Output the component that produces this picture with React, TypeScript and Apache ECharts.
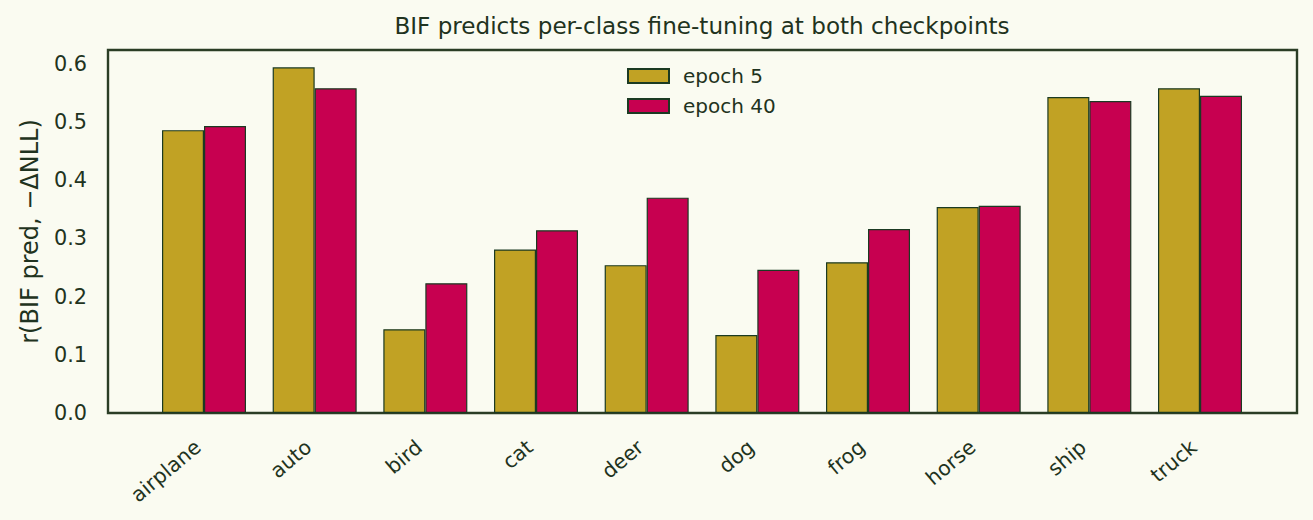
import React, { useEffect, useRef } from "react";
import * as echarts from "echarts";

const categories = ["airplane", "auto", "bird", "cat", "deer", "dog", "frog", "horse", "ship", "truck"];
const epoch5 = [0.486, 0.594, 0.144, 0.281, 0.254, 0.134, 0.259, 0.354, 0.543, 0.558];
const epoch40 = [0.493, 0.558, 0.223, 0.314, 0.370, 0.246, 0.316, 0.356, 0.536, 0.545];
const seriesNames = ["epoch 5", "epoch 40"];
const titleText = "BIF predicts per-class fine-tuning at both checkpoints";
const yLabel = "r(BIF pred, \u2212\u0394NLL)";
const yMin = 0;
const yMax = 0.6237;
const yInterval = 0.1;

const BG = "#fafbf1";
const TEXT = "#1f3320";
const FRAME = "#2a3d25";
const EDGE = "#1b3a22";
const GOLD = "#c1a224";
const MAGENTA = "#c70050";
const FONT = "DejaVu Sans";

export default function App() {
  const ref = useRef<HTMLDivElement>(null);
  useEffect(() => {
    document.body.style.margin = "0";
    document.body.style.background = BG;
    const chart = echarts.init(ref.current!, null, { renderer: "svg" });
    const option: any = {
      animation: false,
      backgroundColor: BG,
      textStyle: { fontFamily: FONT, color: TEXT },
      title: {
        text: titleText,
        left: 697,
        top: 9,
        textAlign: "center",
        textStyle: { fontFamily: FONT, fontSize: 23.1, fontWeight: "normal", color: TEXT },
      },
      legend: {
        orient: "vertical",
        left: 627,
        top: 66,
        padding: 0,
        itemWidth: 41,
        itemHeight: 14,
        itemGap: 10,
        icon: "rect",
        data: seriesNames,
        textStyle: { fontFamily: FONT, fontSize: 20, color: TEXT, padding: [0, 0, 0, 9] },
      },
      grid: [
        {
          left: 108,
          top: 50,
          width: 1189,
          height: 363,
          show: true,
          backgroundColor: BG,
          borderColor: FRAME,
          borderWidth: 2.4,
        },
        {
          left: 148.67,
          top: 50,
          width: 1106.67,
          height: 363,
        },
      ],
      xAxis: [
        { gridIndex: 0, type: "value", show: false, min: 0, max: 1 },
        {
          gridIndex: 1,
          type: "category",
          data: categories,
          boundaryGap: true,
          axisLine: { show: false },
          axisTick: { show: false },
          splitLine: { show: false },
          axisLabel: {
            interval: 0,
            rotate: 40,
            margin: 26,
            padding: [0, 8, 0, 0],
            fontFamily: FONT,
            fontSize: 20.5,
            color: TEXT,
          },
        },
      ],
      yAxis: [
        {
          gridIndex: 0,
          type: "value",
          min: yMin,
          max: yMax,
          interval: yInterval,
          name: yLabel,
          nameLocation: "middle",
          nameGap: 66,
          nameTextStyle: { fontFamily: FONT, fontSize: 24, color: TEXT },
          axisLine: { show: false },
          axisTick: { show: false },
          splitLine: { show: false },
          axisLabel: {
            showMaxLabel: false,
            margin: 21,
            fontFamily: FONT,
            fontSize: 20.8,
            color: TEXT,
            formatter: (v: number) => v.toFixed(1),
          },
        },
        { gridIndex: 1, type: "value", min: yMin, max: yMax, show: false },
      ],
      series: [
        {
          name: seriesNames[0],
          type: "bar",
          xAxisIndex: 1,
          yAxisIndex: 1,
          data: epoch5,
          barWidth: 42,
          barGap: "0%",
          itemStyle: { color: GOLD, borderColor: EDGE, borderWidth: 1.2 },
        },
        {
          name: seriesNames[1],
          type: "bar",
          xAxisIndex: 1,
          yAxisIndex: 1,
          data: epoch40,
          barWidth: 42,
          barGap: "0%",
          itemStyle: { color: MAGENTA, borderColor: EDGE, borderWidth: 1.2 },
        },
      ],
    };
    chart.setOption(option);
    return () => chart.dispose();
  }, []);
  return (
    <div
      ref={ref}
      style={{ position: "fixed", left: 0, top: 0, width: 1313, height: 520, background: BG }}
    />
  );
}
